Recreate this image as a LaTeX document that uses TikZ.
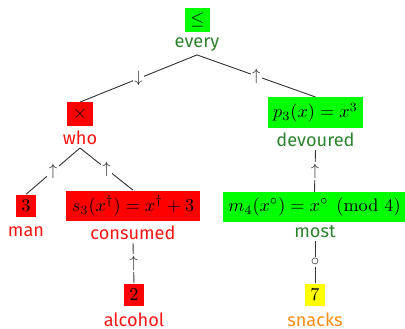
\documentclass[tikz,border=0pt]{standalone}
\usepackage{amsmath}
\usepackage[no-math]{fontspec}
\setmainfont{Fira Sans}
\definecolor{boxgreen}{RGB}{0,255,0}
\definecolor{boxred}{RGB}{255,0,0}
\definecolor{boxyellow}{RGB}{255,255,0}
\definecolor{wordgreen}{RGB}{45,130,45}
\definecolor{wordred}{RGB}{255,20,20}
\definecolor{wordorange}{RGB}{255,140,20}
\begin{document}
\begin{tikzpicture}[x=0.55pt,y=-0.55pt,
  mbox/.style={inner sep=3pt, font=\fontsize{10}{12}\selectfont},
  word/.style={inner sep=1.5pt, font=\fontsize{10}{12}\selectfont},
  link/.style={draw=black!80, line width=0.5pt},
  edgemark/.style={fill=white, inner sep=0.8pt, font=\fontsize{9}{10}\selectfont, text=black!80}]
\useasboundingbox (0,0) rectangle (405,329);

% root
\node[mbox, fill=boxgreen] (le) at (197.5,20) {$\leq$};
\node[word, text=wordgreen] (every) at (197,45) {every};

% left branch
\node[mbox, fill=boxred] (times) at (80,114) {$\times$};
\node[word, text=wordred] (who) at (80,138) {who};
\node[mbox, fill=boxred] (three) at (26,206) {$3$};
\node[word, text=wordred] (man) at (26,232) {man};
\node[mbox, fill=boxred] (s3) at (133,206) {$s_3(x^{\dagger}) = x^{\dagger} + 3$};
\node[word, text=wordred] (consumed) at (133,233) {consumed};
\node[mbox, fill=boxred] (two) at (134,295) {$2$};
\node[word, text=wordred] (alcohol) at (134,320) {alcohol};

% right branch
\node[mbox, fill=boxgreen] (p3) at (315.5,112.5) {$p_3(x) = x^3$};
\node[word, text=wordgreen] (devoured) at (315.5,140) {devoured};
\node[mbox, fill=boxgreen] (m4) at (314.5,207) {$m_4(x^{\circ}) = x^{\circ} \pmod{4}$};
\node[word, text=wordgreen] (most) at (315,232) {most};
\node[mbox, fill=boxyellow] (seven) at (315,295) {$7$};
\node[word, text=wordorange] (snacks) at (315,320) {snacks};

% connectors
\draw[link] (every.south) -- node[edgemark] {$\downarrow$} (times.north);
\draw[link] (every.south) -- node[edgemark] {$\uparrow$} (p3.north);
\draw[link] (who.south) -- node[edgemark] {$\uparrow$} (three.north);
\draw[link] (who.south) -- node[edgemark] {$\uparrow$} (s3.north);
\draw[link] (consumed.south) -- node[edgemark] {$\uparrow$} (two.north);
\draw[link] (devoured.south) -- node[edgemark] {$\uparrow$} (m4.north);
\draw[link] (most.south) -- node[edgemark] {$\circ$} (seven.north);
\end{tikzpicture}
\end{document}
